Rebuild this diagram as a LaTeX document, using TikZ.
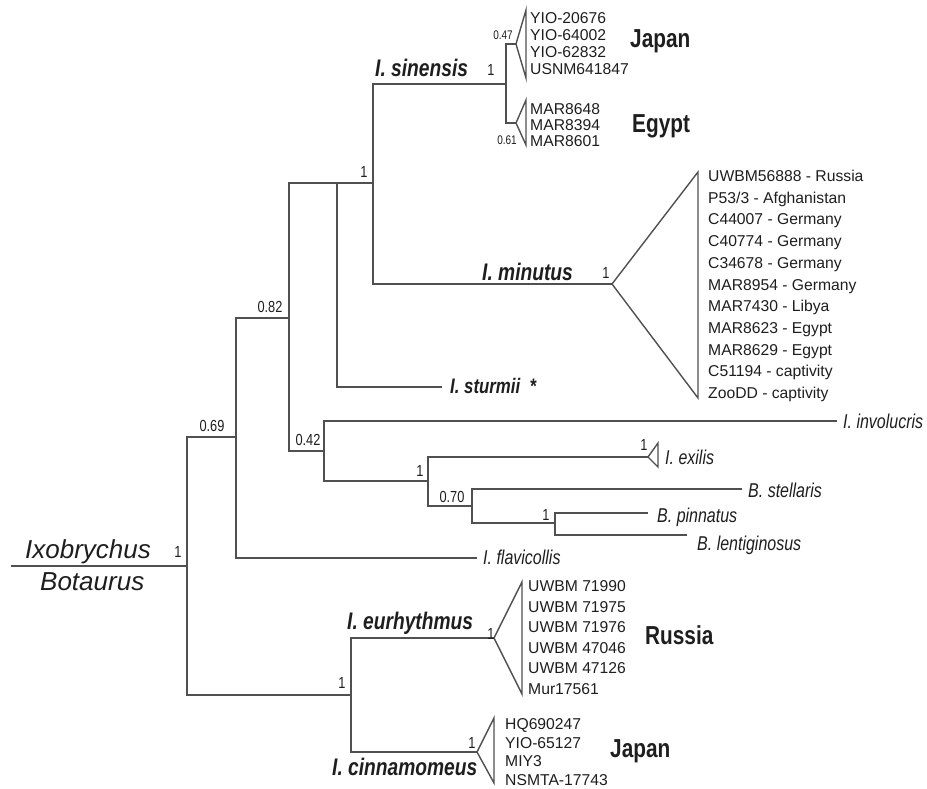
\documentclass[tikz,border=0pt]{standalone}
\usepackage{fontspec}
\setmainfont{Liberation Sans}
\newfontfamily\narrowfont[FakeStretch=0.8]{Liberation Sans}
\definecolor{branchgray}{RGB}{80,80,80}
\definecolor{labelgray}{RGB}{30,30,30}

\begin{document}
\begin{tikzpicture}[x=1pt, y=-1pt,
  br/.style={draw=branchgray, line width=1.4pt, line join=miter},
  tip/.style={anchor=west, inner sep=0pt, text height=11.2pt, text depth=0pt, text=labelgray, font=\fontsize{15.7}{18}\selectfont},
  sp/.style={anchor=west, inner sep=0pt, text height=14.3pt, text depth=0pt, text=labelgray, font=\narrowfont\itshape\fontsize{20}{24}\selectfont},
  clade/.style={anchor=west, inner sep=0pt, text height=17.2pt, text depth=0pt, text=labelgray, font=\narrowfont\bfseries\itshape\fontsize{24}{28}\selectfont},
  place/.style={anchor=west, inner sep=0pt, text height=18.6pt, text depth=0pt, text=labelgray, font=\narrowfont\bfseries\fontsize{26}{30}\selectfont},
  rootlab/.style={anchor=west, inner sep=0pt, text height=18.6pt, text depth=0pt, text=labelgray, font=\itshape\fontsize{26}{30}\selectfont},
  supp/.style={inner sep=0pt, text height=11.5pt, text depth=0pt, text=labelgray, font=\narrowfont\fontsize{16}{18}\selectfont},
  smallsupp/.style={inner sep=0pt, text height=9pt, text depth=0pt, text=labelgray, font=\narrowfont\fontsize{12.5}{14}\selectfont}]
\useasboundingbox (0, 0) rectangle (927, 789);

\coordinate(r0) at (11, 566);
\coordinate(r) at (187, 566);
\coordinate(a) at (236, 437);
\coordinate(b) at (289, 318);
\coordinate(c) at (337, 183);
\coordinate(d) at (373, 183);
\coordinate(e) at (506, 84);
\coordinate(japA) at (516, 44);
\coordinate(egyA) at (516, 123);
\coordinate(minA) at (612, 284);
\coordinate(stu) at (442, 387);
\coordinate(f) at (324, 451);
\coordinate(inv) at (837, 421);
\coordinate(g) at (428, 481);
\coordinate(exiA) at (648, 457);
\coordinate(h) at (472, 506);
\coordinate(stel) at (742, 489);
\coordinate(i) at (555, 523);
\coordinate(pin) at (648, 513);
\coordinate(len) at (687, 535);
\coordinate(fla) at (477, 558);
\coordinate(k) at (351, 695);
\coordinate(eurA) at (494, 638);
\coordinate(cinA) at (477, 752);

\draw[br] (r0) -- (r);
\draw[br] (r) |- (a);
\draw[br] (r) |- (k);
\draw[br] (a) |- (b);
\draw[br] (a) |- (fla);
\draw[br] (b) |- (c);
\draw[br] (b) |- (f);
\draw[br] (c) -- (d);
\draw[br] (c) |- (stu);
\draw[br] (d) |- (e);
\draw[br] (d) |- (minA);
\draw[br] (e) |- (japA);
\draw[br] (e) |- (egyA);
\draw[br] (f) |- (inv);
\draw[br] (f) |- (g);
\draw[br] (g) |- (exiA);
\draw[br] (g) |- (h);
\draw[br] (h) |- (stel);
\draw[br] (h) |- (i);
\draw[br] (i) |- (pin);
\draw[br] (i) |- (len);
\draw[br] (k) |- (eurA);
\draw[br] (k) |- (cinA);

\draw[br] (japA) -- ++(10, -34) -- ++(0, 68) -- cycle;
\draw[br] (egyA) -- ++(10, -23) -- ++(0, 45) -- cycle;
\draw[br] (minA) -- ++(86, -112) -- ++(0, 226) -- cycle;
\draw[br] (exiA) -- ++(10, -14) -- ++(0, 24) -- cycle;
\draw[br] (eurA) -- ++(28, -56) -- ++(0, 112) -- cycle;
\draw[br] (cinA) -- ++(17, -34) -- ++(0, 65) -- cycle;

\node[rootlab](ixo) at (25, 549) {Ixobrychus};
\node[rootlab](bot) at (40, 581) {Botaurus};

\node[supp](s1) at (178, 552) {1};
\node[supp](s2) at (212, 426) {0.69};
\node[supp](s3) at (270, 307) {0.82};
\node[supp](s4) at (308, 440) {0.42};
\node[supp](s5) at (364, 172) {1};
\node[supp](s6) at (491, 70) {1};
\node[smallsupp](s7) at (503, 35) {0.47};
\node[smallsupp](s8) at (507, 140) {0.61};
\node[supp](s9) at (606, 273) {1};
\node[supp](s10) at (420, 471) {1};
\node[supp](s11) at (644, 445) {1};
\node[supp](s12) at (452, 497) {0.70};
\node[supp](s13) at (546, 515) {1};
\node[supp](s14) at (342, 683) {1};
\node[supp](s15) at (491, 634) {1};
\node[supp](s16) at (472, 743) {1};

\node[clade](sin) at (375, 68) {I. sinensis};
\node[clade](min) at (482, 272) {I. minutus};
\node[clade](eur) at (347, 621) {I. eurhythmus};
\node[clade](cin) at (332, 767) {I. cinnamomeus};
\node[clade, font=\narrowfont\bfseries\itshape\fontsize{21}{24}\selectfont, text height=15pt](stul) at (450, 386) {I. sturmii\ \ *};

\node[sp](invl) at (843, 421) {I. involucris};
\node[sp](exil) at (665, 457) {I. exilis};
\node[sp](stell) at (748, 490) {B. stellaris};
\node[sp](pinl) at (657, 515) {B. pinnatus};
\node[sp](lenl) at (697, 543) {B. lentiginosus};
\node[sp](flal) at (483, 557) {I. flavicollis};

\node[place](jp1) at (630, 38) {Japan};
\node[place](eg) at (632, 123) {Egypt};
\node[place](ru) at (645, 635) {Russia};
\node[place](jp2) at (610, 748) {Japan};

\node[tip](j1) at (530, 17.8) {YIO-20676};
\node[tip](j2) at (530, 34.7) {YIO-64002};
\node[tip](j3) at (530, 51.6) {YIO-62832};
\node[tip](j4) at (530, 68.5) {USNM641847};

\node[tip](e1) at (530, 108.7) {MAR8648};
\node[tip](e2) at (530, 125) {MAR8394};
\node[tip](e3) at (530, 141.3) {MAR8601};

\node[tip](m1) at (708, 176) {UWBM56888 - Russia};
\node[tip](m2) at (708, 197.7) {P53/3 - Afghanistan};
\node[tip](m3) at (708, 219.4) {C44007 - Germany};
\node[tip](m4) at (708, 241.1) {C40774 - Germany};
\node[tip](m5) at (708, 262.8) {C34678 - Germany};
\node[tip](m6) at (708, 284.5) {MAR8954 - Germany};
\node[tip](m7) at (708, 306.2) {MAR7430 - Libya};
\node[tip](m8) at (708, 327.9) {MAR8623 - Egypt};
\node[tip](m9) at (708, 349.6) {MAR8629 - Egypt};
\node[tip](m10) at (708, 371.3) {C51194 - captivity};
\node[tip](m11) at (708, 393) {ZooDD - captivity};

\node[tip](u1) at (528, 586) {UWBM 71990};
\node[tip](u2) at (528, 606.5) {UWBM 71975};
\node[tip](u3) at (528, 627) {UWBM 71976};
\node[tip](u4) at (528, 647.5) {UWBM 47046};
\node[tip](u5) at (528, 668) {UWBM 47126};
\node[tip](u6) at (528, 688.5) {Mur17561};

\node[tip](c1) at (505, 724) {HQ690247};
\node[tip](c2) at (505, 742.7) {YIO-65127};
\node[tip](c3) at (505, 761.3) {MIY3};
\node[tip](c4) at (505, 780) {NSMTA-17743};

\end{tikzpicture}
\end{document}
